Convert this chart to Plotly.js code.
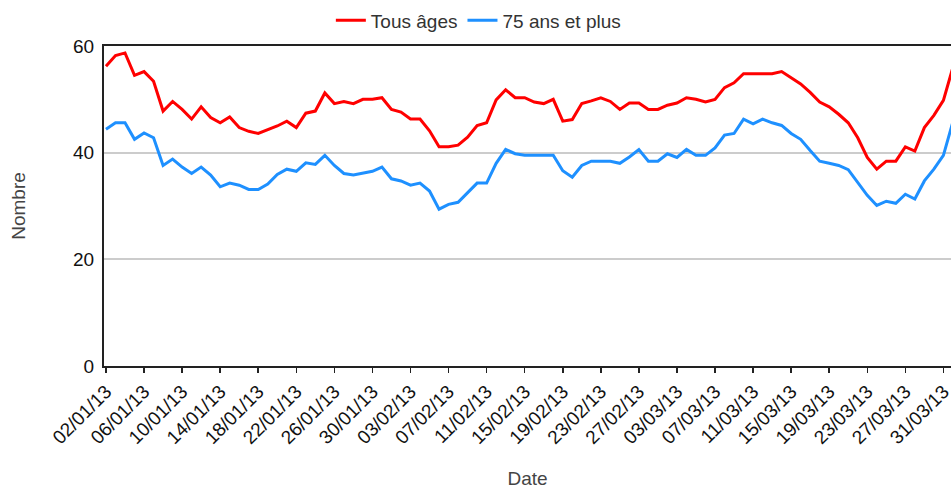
<!DOCTYPE html>
<html>
<head>
<meta charset="utf-8">
<script src="https://cdn.plot.ly/plotly-3.0.1.min.js"></script>
<style>html,body{margin:0;padding:0;background:#fff;}#chart{width:951px;height:489px;}</style>
</head>
<body>
<div id="chart"></div>
<script>
const dates = [
 '2013-01-02','2013-01-03','2013-01-04','2013-01-05','2013-01-06','2013-01-07','2013-01-08','2013-01-09','2013-01-10','2013-01-11',
 '2013-01-12','2013-01-13','2013-01-14','2013-01-15','2013-01-16','2013-01-17','2013-01-18','2013-01-19','2013-01-20','2013-01-21',
 '2013-01-22','2013-01-23','2013-01-24','2013-01-25','2013-01-26','2013-01-27','2013-01-28','2013-01-29','2013-01-30','2013-01-31',
 '2013-02-01','2013-02-02','2013-02-03','2013-02-04','2013-02-05','2013-02-06','2013-02-07','2013-02-08','2013-02-09','2013-02-10',
 '2013-02-11','2013-02-12','2013-02-13','2013-02-14','2013-02-15','2013-02-16','2013-02-17','2013-02-18','2013-02-19','2013-02-20',
 '2013-02-21','2013-02-22','2013-02-23','2013-02-24','2013-02-25','2013-02-26','2013-02-27','2013-02-28','2013-03-01','2013-03-02',
 '2013-03-03','2013-03-04','2013-03-05','2013-03-06','2013-03-07','2013-03-08','2013-03-09','2013-03-10','2013-03-11','2013-03-12',
 '2013-03-13','2013-03-14','2013-03-15','2013-03-16','2013-03-17','2013-03-18','2013-03-19','2013-03-20','2013-03-21','2013-03-22',
 '2013-03-23','2013-03-24','2013-03-25','2013-03-26','2013-03-27','2013-03-28','2013-03-29','2013-03-30','2013-03-31','2013-04-01'
];
const tousAges = [
 56.2,58.2,58.7,54.5,55.2,53.4,47.8,49.6,48.1,46.3,
 48.6,46.6,45.6,46.7,44.7,44.0,43.6,44.3,45.0,45.9,
 44.7,47.4,47.8,51.2,49.2,49.6,49.2,50.0,50.0,50.3,
 48.1,47.6,46.3,46.3,44.1,41.1,41.1,41.4,42.9,45.1,
 45.6,49.9,51.8,50.3,50.3,49.5,49.2,50.0,45.9,46.2,
 49.2,49.7,50.3,49.6,48.1,49.3,49.3,48.1,48.1,48.9,
 49.3,50.3,50.0,49.5,50.0,52.2,53.1,54.8,54.8,54.8,
 54.8,55.2,54.0,52.9,51.3,49.5,48.6,47.2,45.6,42.8,
 39.1,36.9,38.4,38.4,41.1,40.3,44.7,47.0,49.8,56.0
];
const plus75 = [
 44.4,45.6,45.6,42.5,43.7,42.8,37.6,38.8,37.3,36.1,
 37.3,35.8,33.6,34.3,33.9,33.1,33.1,34.1,35.9,36.9,
 36.5,38.1,37.8,39.5,37.6,36.1,35.8,36.2,36.5,37.3,
 35.1,34.7,33.9,34.3,32.8,29.4,30.3,30.7,32.5,34.3,
 34.3,38.0,40.6,39.8,39.5,39.5,39.5,39.5,36.6,35.4,
 37.6,38.4,38.4,38.4,38.0,39.2,40.6,38.4,38.4,39.8,
 39.1,40.6,39.5,39.5,40.9,43.3,43.6,46.3,45.4,46.3,
 45.6,45.1,43.6,42.5,40.4,38.4,38.0,37.6,36.8,34.5,
 32.0,30.1,30.9,30.5,32.2,31.3,34.7,36.9,39.5,45.8
];
const seriesNames = ['Tous âges', '75 ans et plus'];
const yTicks = [0, 20, 40, 60];

const xRange = ['2013-01-01 19:00', '2013-03-31 19:10'];
const FONT = 'Liberation Sans, Arial, sans-serif';

const traces = [
  {x: dates, y: tousAges, name: seriesNames[0], type: 'scatter', mode: 'lines',
   line: {color: '#ff0000', width: 3}},
  {x: dates, y: plus75, name: seriesNames[1], type: 'scatter', mode: 'lines',
   line: {color: '#1e90ff', width: 3}}
];

const layout = {
  width: 951, height: 489,
  margin: {l: 104, r: 0, t: 46, b: 123},
  paper_bgcolor: '#fff', plot_bgcolor: '#fff',
  font: {family: FONT, size: 19, color: '#222'},
  showlegend: true,
  legend: {orientation: 'h', xref: 'container', yref: 'container', x: 0.503, xanchor: 'center',
           y: 0.997, yanchor: 'top', font: {family: FONT, size: 19, color: '#333'}},
  xaxis: {
    type: 'date', range: xRange, tick0: '2013-01-02', dtick: 4 * 86400000,
    tickformat: '%d/%m/%y', tickangle: -45, tickfont: {family: FONT, size: 19, color: '#111'},
    ticklabeloverflow: 'allow',
    ticks: 'outside', ticklen: 5, tickwidth: 1.5, tickcolor: '#222',
    showline: true, linecolor: '#222', linewidth: 2, mirror: true,
    showgrid: false, zeroline: false,
    title: {text: 'Date', font: {family: FONT, size: 19, color: '#444'}, standoff: 30}
  },
  xaxis2: {
    type: 'date', overlaying: 'x', anchor: 'y', range: xRange, tick0: '2013-01-02', dtick: 4 * 86400000,
    ticks: 'inside', ticklen: 5, tickwidth: 1.5, tickcolor: '#222',
    showticklabels: false, showline: false, showgrid: false, zeroline: false
  },
  yaxis: {
    range: [0, 60], tickvals: yTicks, ticktext: yTicks.map(String),
    tickfont: {family: FONT, size: 19, color: '#111'},
    ticks: '', showline: true, linecolor: '#222', linewidth: 2,
    showgrid: true, gridcolor: '#cccccc', gridwidth: 2, zeroline: false,
    ticklabelstandoff: 4,
    title: {text: 'Nombre', font: {family: FONT, size: 19, color: '#444'}, standoff: 42}
  }
};

Plotly.newPlot('chart', traces, layout, {displayModeBar: false, staticPlot: true});
</script>
</body>
</html>
